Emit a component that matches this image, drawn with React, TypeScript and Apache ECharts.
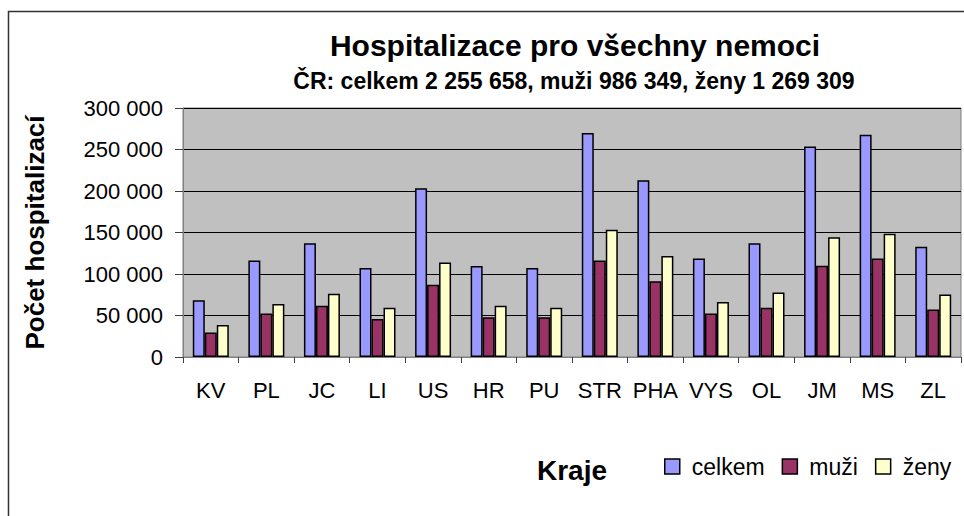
import React, { useEffect, useRef } from "react";
import * as echarts from "echarts";

const categories = ["KV", "PL", "JC", "LI", "US", "HR", "PU", "STR", "PHA", "VYS", "OL", "JM", "MS", "ZL"];
const celkem = [68500, 116400, 137000, 107100, 203400, 109600, 107100, 269900, 213100, 118800, 137000, 253700, 267800, 132900];
const muzi = [29500, 52400, 61600, 45900, 87000, 48000, 48000, 116400, 91400, 52400, 59200, 109900, 118800, 57300];
const zeny = [38600, 64000, 76100, 59200, 114000, 61600, 59200, 153400, 121600, 66400, 77800, 144200, 148600, 75400];
const seriesNames = ["celkem", "muži", "ženy"];
const seriesColors = ["#9999FF", "#993366", "#FFFFCC"];
const titleText = "Hospitalizace pro všechny nemoci";
const subtitleText = "ČR: celkem 2 255 658, muži 986 349, ženy 1 269 309";
const yAxisName = "Počet hospitalizací";
const xAxisName = "Kraje";

const FONT = "'Liberation Sans', Arial, sans-serif";

function fmt(v: number): string {
  return String(v).replace(/\B(?=(\d{3})+(?!\d))/g, " ");
}

export default function App() {
  const ref = useRef<HTMLDivElement>(null);
  useEffect(() => {
    if (!ref.current) return;
    const chart = echarts.init(ref.current, undefined, { renderer: "svg" });
    const values = [celkem, muzi, zeny];
    chart.setOption({
      animation: false,
      backgroundColor: "#ffffff",
      textStyle: { fontFamily: FONT },
      title: [
        {
          text: titleText,
          left: 575,
          top: 30,
          textAlign: "center",
          padding: 0,
          textStyle: { fontFamily: FONT, fontSize: 30, fontWeight: "bold", color: "#000" },
        },
        {
          text: subtitleText,
          left: 574,
          top: 69,
          textAlign: "center",
          padding: 0,
          textStyle: { fontFamily: FONT, fontSize: 23, fontWeight: "bold", color: "#000" },
        },
      ],
      graphic: [
        {
          type: "rect",
          silent: true,
          shape: { x: 8.5, y: 11.5, width: 1200, height: 800 },
          style: { fill: "none", stroke: "#333333", lineWidth: 1.5 },
        },
      ],
      legend: {
        data: seriesNames,
        left: 664,
        top: 455,
        padding: 0,
        itemWidth: 15,
        itemHeight: 15,
        itemGap: 17,
        icon: "rect",
        itemStyle: { borderColor: "#000000", borderWidth: 1.5 },
        textStyle: { fontFamily: FONT, fontSize: 23, color: "#000", padding: [0, 0, 0, 7] },
      },
      grid: {
        left: 183,
        right: 3,
        top: 108,
        bottom: 159,
        show: true,
        backgroundColor: "#C0C0C0",
        borderColor: "#808080",
        borderWidth: 1,
        containLabel: false,
      },
      xAxis: {
        type: "category",
        data: categories,
        name: xAxisName,
        nameLocation: "middle",
        nameGap: 99,
        nameTextStyle: { fontFamily: FONT, fontSize: 28, fontWeight: "bold", color: "#000" },
        axisLine: { show: true, lineStyle: { color: "#808080", width: 1 } },
        axisTick: { show: true, interval: 0, alignWithLabel: false, length: 6, lineStyle: { color: "#404040" } },
        axisLabel: { interval: 0, margin: 22, fontFamily: FONT, fontSize: 22, color: "#000" },
        splitLine: { show: false },
      },
      yAxis: {
        type: "value",
        min: 0,
        max: 300000,
        interval: 50000,
        name: yAxisName,
        nameLocation: "middle",
        nameGap: 135,
        nameTextStyle: { fontFamily: FONT, fontSize: 26, fontWeight: "bold", color: "#000" },
        axisLine: { show: true, lineStyle: { color: "#808080", width: 1 } },
        axisTick: { show: true, length: 8, lineStyle: { color: "#404040" } },
        axisLabel: { margin: 20, fontFamily: FONT, fontSize: 22, color: "#000", formatter: (v: number) => fmt(v) },
        splitLine: { show: true, lineStyle: { color: "#000", width: 1 } },
      },
      series: seriesNames.map((name, i) => ({
        name,
        type: "bar",
        data: values[i],
        barWidth: 12,
        barGap: "0%",
        itemStyle: { color: seriesColors[i], borderColor: "#000", borderWidth: 1.5 },
      })),
    });
    return () => chart.dispose();
  }, []);
  return (
    <div
      ref={ref}
      style={{ position: "fixed", left: 0, top: 0, width: 964, height: 516 }}
    />
  );
}
